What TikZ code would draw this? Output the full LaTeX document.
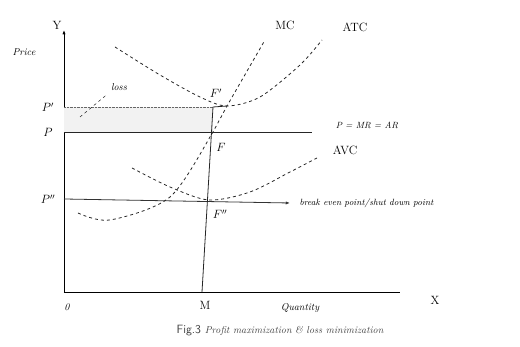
\documentclass[tikz,border=0pt]{standalone}
\usepackage{tikz}
\usetikzlibrary{arrows.meta,positioning}

\begin{document}
\begin{tikzpicture}[
  x=1pt,y=1pt,
  every node/.style={font=\large},
  ax/.style={thick,black},
  cv/.style={thick,dashed,black!85,smooth},
  hl/.style={thick,black!85},
  lbl/.style={font=\normalsize\itshape},
  ar/.style={-{Latex[length=1.5mm]},thick,black!80}
]
\useasboundingbox (-64,-55) rectangle (456,292);

% axes
\coordinate (O) at (0,0);
\coordinate (Ytop) at (0,262);
\coordinate (Xend) at (336,0);
\draw[ax,-{Latex[length=1.5mm]}] (O)--(Ytop);
\draw[ax] (O)--(Xend);
\node (Y) at (-7,267) {Y};
\node[lbl] (Pr) at (-40,240) {Price};
\node[lbl] (O1) at (3,-15) {0};
\node[lbl] (Q) at (236,-16) {Quantity};
\node (X) at (371,-8) {X};

% key points
\coordinate (P1) at (0,185);
\coordinate (P) at (0,160);
\coordinate (P2) at (0,93);
\coordinate (F1) at (149,185);
\coordinate (G) at (163,186);
\coordinate (F) at (149,160);
\coordinate (F2) at (145,92);
\coordinate (M) at (138,0);
\coordinate (PE) at (248,160);
\coordinate (BE) at (226,89);

% loss area
\fill[black!5] (P) rectangle (F1);
\draw[densely dotted,black!60] (P1)--(F1);
\draw[hl] (F1)--(G);

% price lines
\draw[hl] (P)--(PE);
\draw[ar] (P2)--(BE);
\draw[hl] (F1)--(M);

% curves
\draw[cv] plot coordinates {(14,79) (46,72) (106,95) (149,160) (163,186) (201,252)};
\draw[cv] plot coordinates {(51,245) (96,217) (136,195) (163,186) (196,195) (236,227) (258,252)};
\draw[cv] plot coordinates {(68,124) (106,105) (145,92) (186,100) (226,120) (253,134)};

% labels
\node (lP1) at (-16,185) {$P'$};
\node (lP) at (-16,160) {$P$};
\node (lP2) at (-16,93) {$P''$};
\node (lF1) at (152,199) {$F'$};
\node (lF) at (157,145) {$F$};
\node (lF2) at (156,78) {$F''$};
\node (lM) at (141,-13) {M};
\node (MC) at (221,267) {MC};
\node (ATC) at (291,265) {ATC};
\node (AVC) at (281,142) {AVC};
\node[lbl,font=\small\itshape] (PMR) at (303,167) {P = MR = AR};
\node[lbl,anchor=west,font=\small\itshape] (BEP) at (232,89) {break even point/shut down point};
\node[lbl] (loss) at (55,205) {loss};
\coordinate (ls) at (16,175);
\draw[thin,dashed] (ls)--(loss.south west);

% caption
\node (cap) at (216,-39) {\sffamily\color{black!75}Fig.3 \rmfamily\itshape\normalsize Profit maximization \& loss minimization};
\end{tikzpicture}
\end{document}
